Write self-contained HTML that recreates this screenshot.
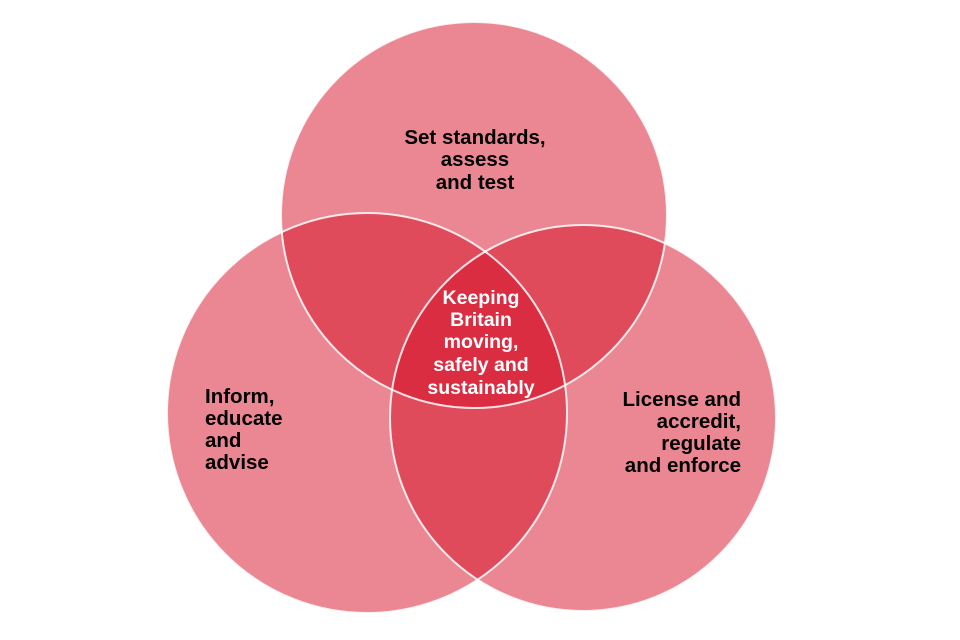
<!DOCTYPE html>
<html><head><style>
html,body{margin:0;padding:0;background:#fff;}
svg{display:block;}
text{font-family:"Liberation Sans",Arial,sans-serif;font-weight:bold;font-size:20.5px;}
</style></head><body>
<svg width="960" height="640" viewBox="0 0 960 640">
<g fill="#d50f25" fill-opacity="0.5">
<circle cx="474" cy="215" r="193"/>
<circle cx="367" cy="413" r="200"/>
<circle cx="583" cy="418" r="193"/>
</g>
<g fill="none" stroke="#fff" stroke-width="2" stroke-opacity="0.85">
<circle cx="474" cy="215" r="193"/>
<circle cx="367" cy="413" r="200"/>
<circle cx="583" cy="418" r="193"/>
</g>
<g fill="#000">
<text x="475" y="144" text-anchor="middle">Set standards,</text>
<text x="475" y="166" text-anchor="middle">assess</text>
<text x="475" y="189" text-anchor="middle">and test</text>
<text x="205" y="403">Inform,</text>
<text x="205" y="425">educate</text>
<text x="205" y="447">and</text>
<text x="205" y="469">advise</text>
<text x="741" y="406" text-anchor="end">License and</text>
<text x="741" y="428" text-anchor="end">accredit,</text>
<text x="741" y="450" text-anchor="end">regulate</text>
<text x="741" y="472" text-anchor="end">and enforce</text>
</g>
<g fill="#fff" text-anchor="middle">
<text x="481" y="304" style="font-size:19.5px">Keeping</text>
<text x="481" y="326" style="font-size:19.5px">Britain</text>
<text x="481" y="348" style="font-size:19.5px">moving,</text>
<text x="481" y="371" style="font-size:19.5px">safely and</text>
<text x="481" y="394" style="font-size:19.5px">sustainably</text>
</g>
</svg>
</body></html>
